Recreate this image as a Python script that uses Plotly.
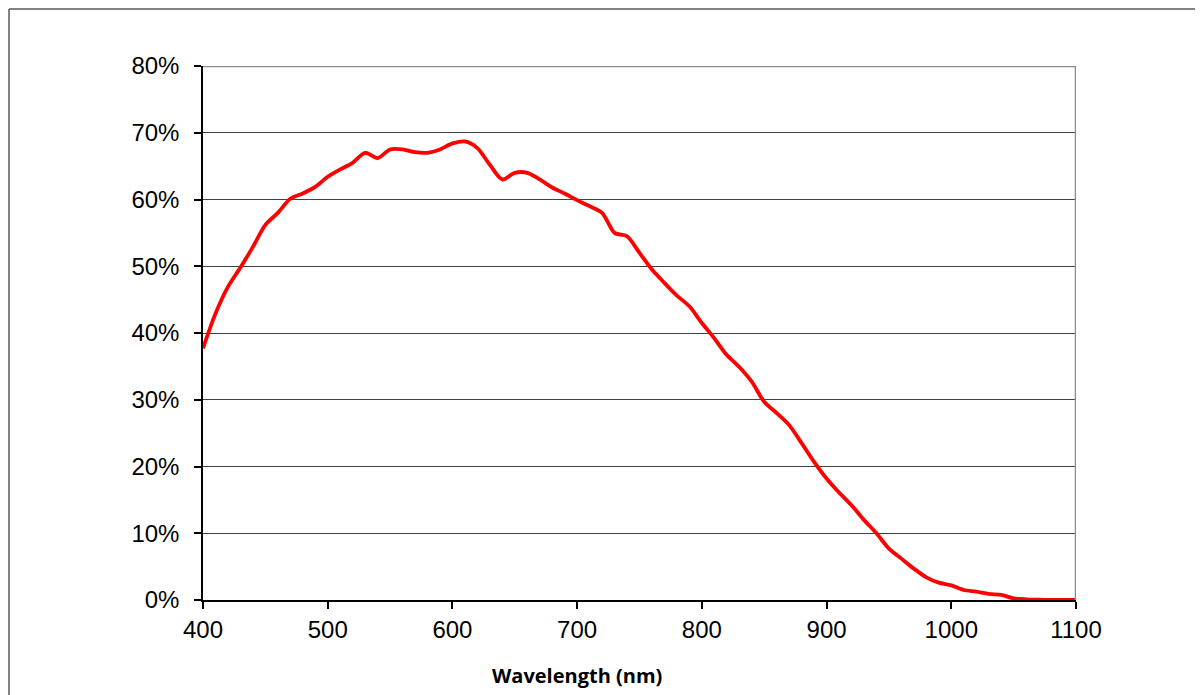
import plotly.graph_objects as go

wavelength_nm = [400, 410, 420, 430, 440, 450, 460, 470, 480, 490,
                 500, 510, 520, 530, 540, 550, 560, 570, 580, 590,
                 600, 610, 620, 630, 640, 650, 660, 670, 680, 690,
                 700, 710, 720, 730, 740, 750, 760, 770, 780, 790,
                 800, 810, 820, 830, 840, 850, 860, 870, 880, 890,
                 900, 910, 920, 930, 940, 950, 960, 970, 980, 990,
                 1000, 1010, 1020, 1030, 1040, 1050, 1060, 1070, 1080, 1090, 1100]
qe_percent = [37.7, 42.9, 46.9, 49.8, 52.9, 56.2, 58.0, 60.1, 60.9, 61.9,
              63.4, 64.5, 65.5, 67.0, 66.2, 67.5, 67.5, 67.1, 67.0, 67.5,
              68.4, 68.7, 67.7, 65.2, 63.0, 64.0, 64.0, 63.0, 61.8, 60.9,
              59.9, 59.0, 58.0, 55.0, 54.5, 52.0, 49.5, 47.5, 45.6, 44.0,
              41.5, 39.2, 36.7, 34.9, 32.7, 29.7, 28.0, 26.2, 23.5, 20.7,
              18.2, 16.1, 14.2, 12.0, 10.0, 7.7, 6.2, 4.7, 3.4, 2.6,
              2.2, 1.5, 1.25, 0.9, 0.75, 0.25, 0.1, 0.05, 0.02, 0.01, 0.0]
x_ticks = [400, 500, 600, 700, 800, 900, 1000, 1100]
y_ticks = [0, 10, 20, 30, 40, 50, 60, 70, 80]
y_tick_labels = [f"{v}%" for v in y_ticks]
x_title = "Wavelength (nm)"

fig = go.Figure()
fig.add_trace(go.Scatter(
    x=wavelength_nm, y=qe_percent, mode="lines",
    line=dict(color="#ff0000", width=3.8, shape="spline", smoothing=0.8),
    hoverinfo="skip", showlegend=False,
))

tick_font = dict(family="Liberation Sans, Arial, sans-serif", size=24, color="#000000")

# figure is placed at an 8px page offset; plot area spans x 203..1076, y 66..600 on the page
fig.update_layout(
    width=1195, height=687,
    margin=dict(l=195, r=127, t=58, b=95),
    paper_bgcolor="white", plot_bgcolor="white",
    xaxis=dict(
        range=[400, 1100], tickvals=x_ticks, ticktext=[str(t) for t in x_ticks],
        showgrid=False, zeroline=False,
        showline=True, linecolor="#000000", linewidth=1.5,
        ticks="outside", ticklen=7, tickcolor="#000000", tickwidth=1.5,
        tickfont=tick_font,
    ),
    yaxis=dict(
        range=[0, 80], tickvals=y_ticks, ticktext=y_tick_labels,
        showgrid=True, gridcolor="#404040", gridwidth=1.2,
        zeroline=False,
        showline=True, linecolor="#000000", linewidth=1.5,
        ticks="outside", ticklen=7, tickcolor="#000000", tickwidth=1.5,
        tickfont=tick_font, ticklabelstandoff=10,
    ),
    annotations=[
        dict(text=x_title, xref="paper", yref="paper", x=0.4284, y=-0.1423,
             xanchor="center", yanchor="middle", showarrow=False,
             font=dict(family="Open Sans, sans-serif", size=20, color="#000000", weight="bold")),
    ],
    shapes=[
        dict(type="line", xref="x", yref="y", x0=400, x1=1100, y0=80, y1=80,
             line=dict(color="#8c8c8c", width=2.5)),
        dict(type="line", xref="x", yref="y", x0=1100, x1=1100, y0=0, y1=80,
             line=dict(color="#8c8c8c", width=2.5)),
        # outer frame (top and left), at the figure edge
        dict(type="line", xref="paper", yref="paper", x0=-0.2222, x1=1.2, y0=1.1067, y1=1.1067,
             line=dict(color="#595959", width=1.5)),
        dict(type="line", xref="paper", yref="paper", x0=-0.2222, x1=-0.2222, y0=1.1067, y1=-0.2,
             line=dict(color="#595959", width=1.5)),
    ],
)

fig.write_html("out.html")
